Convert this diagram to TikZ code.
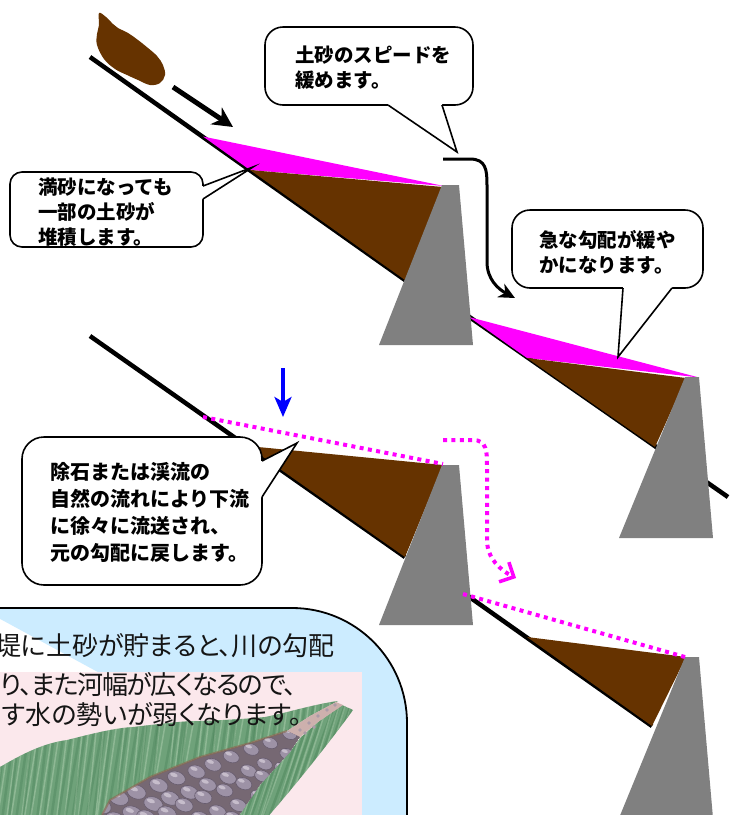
\documentclass[tikz,border=0pt]{standalone}
\usepackage{fontspec}
\newfontfamily\jp{Noto Sans CJK JP}
\newfontfamily\jpp{Noto Sans CJK JP}[RawFeature=+palt]
\usetikzlibrary{arrows.meta,calc}

\definecolor{soil}{HTML}{663300}
\definecolor{mag}{HTML}{FF00FF}
\definecolor{damgray}{HTML}{808080}
\definecolor{panelblue}{HTML}{CCECFF}
\definecolor{photopink}{HTML}{FBE8EC}
\definecolor{leaf}{HTML}{6FA27A}
\definecolor{leafdark}{HTML}{3F7A4F}
\definecolor{leaflight}{HTML}{B5D3B5}
\definecolor{gravel}{HTML}{CDB0AD}
\definecolor{stone}{HTML}{9D92A6}
\definecolor{stoneedge}{HTML}{675C6E}
\definecolor{stonehi}{HTML}{D8D0DB}
\definecolor{bedsoil}{HTML}{8A6A4E}
\definecolor{bedgap}{HTML}{766873}
\definecolor{inktext}{HTML}{151515}

\begin{document}
\begin{tikzpicture}[x=1pt,y=-1pt,
  slope/.style={draw=black, line width=4.5pt},
  dam/.style={fill=damgray},
  magdot/.style={draw=mag, line width=4pt, dash pattern=on 4pt off 4.4pt},
  bubble/.style={draw=black, line width=1.6pt, fill=white, rounded corners=#1,
                 inner sep=0pt, outer sep=0pt, anchor=north west},
  bubble/.default=18pt,
  tailline/.style={draw=black, line width=1.6pt, line join=miter},
  btext/.style={font=\jp\bfseries\fontsize{19.5pt}{25pt}\selectfont, align=left,
                inner sep=0pt, anchor=north west},
  ptext/.style={font=\jpp\fontsize{26pt}{30pt}\selectfont, text=inktext, inner sep=0pt},
  boulder/.style={fill=stone, draw=stoneedge, line width=0.6pt}]

\useasboundingbox (0,0) rectangle (738,815);
\fill[white] (0,0) rectangle (738,815);

% falling sediment and its direction
\fill[soil] plot[smooth cycle, tension=0.6] coordinates {(99,13) (106,17) (113,24)
  (118,28) (128,33) (138,40) (148,48) (157,56) (163,65) (165,75) (160,83) (150,85)
  (138,80) (127,75) (115,69) (104,59) (97,45) (97,34) (99,25)};
\coordinate (fa) at (173,87);
\coordinate (fb) at (233,127);
\draw[line width=5pt, -{Stealth[length=20pt,width=20pt,inset=6pt]}] (fa) -- (fb);

% river bed lines
\draw[slope] (90,57) -- (405,280);
\draw[slope] (468,316) -- (728,497);
\draw[slope] (90,336) -- (405,557);
\draw[slope] (468,596) -- (652,726);

% deposits, full state
\fill[mag] (203,136.5) -- (444,186) -- (250,170) -- cycle;
\fill[soil] (250,170) -- (443,187) -- (405,280) -- cycle;
\fill[mag] (469,317) -- (699,377.5) -- (527,358) -- cycle;
\fill[soil] (527,358) -- (686,378) -- (655,447) -- cycle;

% deposits after removal
\fill[soil] (258,447) -- (443,465) -- (405,557) -- (263,457) -- cycle;
\fill[soil] (527,637) -- (686,657) -- (652,726) -- cycle;

% dams
\fill[dam] (442,185) -- (459,185) -- (473,345) -- (379,345) -- cycle;
\fill[dam] (685,377) -- (699,377) -- (713,538) -- (619,538) -- cycle;
\fill[dam] (442,465) -- (459,465) -- (473,625) -- (379,625) -- cycle;
\fill[dam] (685,657) -- (699,657) -- (713,818) -- (619,818) -- cycle;

% original bed level after sediment is carried away
\draw[magdot] (203,417) -- (443,464);
\draw[magdot] (463,594) -- (685,657);

% flow arrows
\coordinate (ca) at (443,159);
\coordinate (cb) at (515,298);
\draw[line width=3pt, -{Stealth[length=16pt,width=15pt,inset=5pt]}]
  (ca) -- (470,159) .. controls (486,159) and (487,170) .. (487,185)
  -- (487,262) .. controls (487,279) and (498,289) .. (cb);
\coordinate (da) at (443,440);
\coordinate (db) at (516,578);
\draw[magdot, -{Straight Barb[length=11pt,width=22pt,line width=3.5pt]}]
  (da) -- (473,440) .. controls (487,440) and (487,452) .. (487,466)
  -- (487,540) .. controls (487,558) and (500,570) .. (db);
\coordinate (ua) at (283,368);
\coordinate (ub) at (283,417);
\draw[draw=blue, line width=3.5pt, -{Stealth[length=20pt,width=17pt,inset=5pt]}] (ua) -- (ub);

% callout: speed of sediment
\node[bubble, minimum width=208pt, minimum height=78pt] (b1) at (265,27) {};
\coordinate (tip1) at (457,152);
\fill[white] (388,103) -- (388,105) -- (tip1) -- (442,105) -- (442,103) -- cycle;
\draw[tailline] (388,105) -- (tip1) -- (442,105);
\node[btext] (t1) at (295,45.5) {土砂のスピードを\\緩めます。};

% callout: partial deposit
\node[bubble=12pt, minimum width=193pt, minimum height=75pt] (b2) at (10,172) {};
\coordinate (tip2) at (253,167);
\fill[white] (201,186) -- (203,186) -- (tip2) -- (203,199) -- (201,199) -- cycle;
\draw[tailline] (203,186) -- (tip2) -- (203,199);
\node[btext] (t2) at (38,177.5) {満砂になっても\\一部の土砂が\\堆積します。};

% callout: gentler gradient
\node[bubble, minimum width=191pt, minimum height=78pt] (b3) at (512,210) {};
\coordinate (tip3) at (618,357);
\fill[white] (623,286) -- (623,288) -- (tip3) -- (672,288) -- (672,286) -- cycle;
\draw[tailline] (623,288) -- (tip3) -- (672,288);
\node[btext] (t3) at (539,230.5) {急な勾配が緩や\\かになります。};

% callout: return to original gradient
\node[bubble=22pt, minimum width=240pt, minimum height=148pt] (b4) at (22,437) {};
\coordinate (tip4) at (297,443);
\fill[white] (260,461) -- (262,461) -- (tip4) -- (262,497) -- (260,497) -- cycle;
\draw[tailline] (262,461) -- (tip4) -- (262,497);
\node[btext, font=\jp\bfseries\fontsize{20pt}{27pt}\selectfont] (t4) at (50,462.5)
  {除石または渓流の\\自然の流れにより下流\\に徐々に流送され、\\元の勾配に戻します。};

% explanation panel
\draw[fill=panelblue, line width=1.8pt, rounded corners=115pt]
  (-20,608) -- (407,608) -- (407,840);
\fill[photopink] (-5,672) rectangle (362,820);

% river illustration: left bank
\def\bankpath{(-5,770) .. controls (25,752) and (45,743) .. (67,740)
  .. controls (95,733) and (115,728) .. (133,727)
  .. controls (160,724) and (180,721) .. (200,721)
  .. controls (225,720) and (245,719) .. (265,717)
  .. controls (290,712) and (315,704) .. (338,701)
  -- (310,716) -- (287,731) -- (250,743) -- (200,757) -- (150,777) -- (110,800)
  -- (103,812) -- (100,820) -- (-5,820) -- cycle}
\fill[leaf] \bankpath;
\pgfmathsetseed{11}
\begin{scope}
  \clip \bankpath;
  \foreach \x in {-10,-3,...,340} {
    \pgfmathsetmacro{\dx}{rand*6}
    \draw[leafdark, line width=2.5pt, opacity=.3] ({\x+\dx},700) -- ({\x-16},820);
    \draw[leaflight, line width=1.5pt, opacity=.45] ({\x+4},702) -- ({\x-12+\dx},820);
  }
\end{scope}

% right bank
\def\rightbank{(342,705) -- (353,710) .. controls (335,735) and (300,780) .. (265,820)
  -- (236,820) -- (260,785) -- (290,752) -- (300,738) -- (318,722) -- cycle}
\fill[leaf] \rightbank;
\begin{scope}
  \clip \rightbank;
  \foreach \x in {230,236,...,380} {
    \pgfmathsetmacro{\dx}{rand*5}
    \draw[leafdark, line width=2.5pt, opacity=.35] ({\x+\dx},700) -- ({\x-40},820);
    \draw[leaflight, line width=1.5pt, opacity=.4] ({\x+3},700) -- ({\x-37+\dx},820);
  }
\end{scope}

% fine gravel towards the upper reach
\fill[gravel] (252,742) -- (287,731) -- (310,716) -- (336,702) -- (343,705)
  -- (318,722) -- (300,737) -- (288,746) -- cycle;
\foreach \x/\y in {292/735, 300/730, 309/723, 318/716, 327/710, 335/705, 305/733, 296/740, 314/727}
  \fill[stone!70!gravel] (\x,\y) circle [radius=1.8pt];

% bed of boulders
\def\bedpath{(100,820) -- (103,812) -- (110,800) -- (150,777) -- (200,757) -- (250,743)
  -- (287,731) -- (300,737) -- (290,752) -- (260,785) -- (236,820) -- cycle}
\begin{scope}
  \clip \bedpath;
  \fill[bedgap] \bedpath;
  \foreach \j in {0,...,5} {
    \foreach \i in {0,...,11} {
      \pgfmathsetmacro{\px}{100+\i*19+\j*5+mod(\j,2)*9.5+rand*2}
      \pgfmathsetmacro{\py}{806-\i*7.1+\j*13.5+rand*1.5}
      \pgfmathsetmacro{\sc}{1-\i*0.03}
      \draw[boulder, rotate around={-20:(\px,\py)}] (\px,\py)
        ellipse [x radius={10.5pt*\sc}, y radius={7.4pt*\sc}];
      \fill[stonehi, opacity=.7, rotate around={-20:(\px-2.5,\py-3)}] ({\px-2.5},{\py-3})
        ellipse [x radius={4.5pt*\sc}, y radius={2.2pt*\sc}];
    }
  }
\end{scope}
\draw[bedsoil, line width=2pt, opacity=.6, line join=round]
  (102,815) -- (110,800) -- (150,777) -- (200,757) -- (250,743) -- (287,731);

% explanation text
\node[ptext, anchor=base west] (l1) at (-5,655) {堤に土砂が貯まると、川の勾配};
\node[ptext, anchor=base west, font=\jpp\fontsize{26pt}{30pt}\selectfont\addfontfeature{LetterSpace=-5}] (l2) at (0,694) {り、また河幅が広くなるので、};
\node[ptext, anchor=base west] (l3) at (2,724) {す水の勢いが弱くなります。};

\end{tikzpicture}
\end{document}
